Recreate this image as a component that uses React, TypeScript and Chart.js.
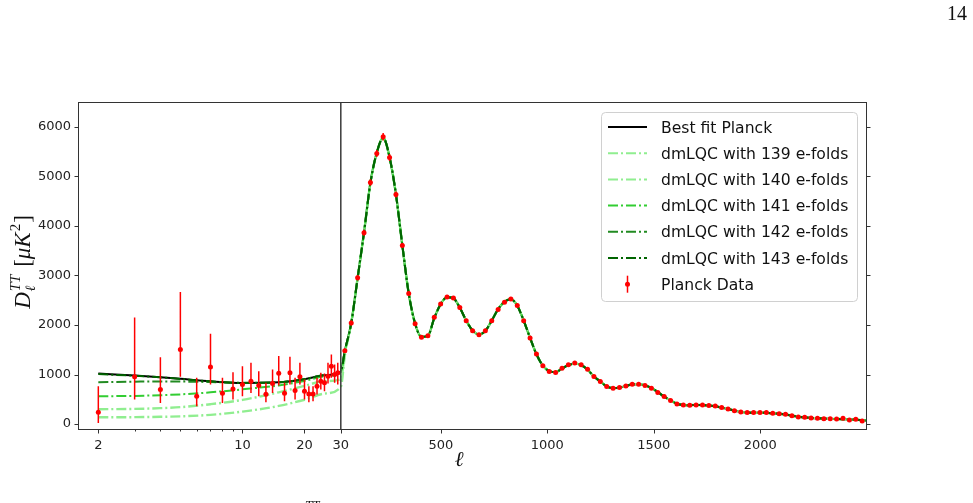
import React, { useEffect, useRef } from "react";
import { Chart, registerables } from "chart.js";

Chart.register(...registerables);

// ---------- layout constants ----------
const W = 973;
const H = 503;
const AREA = { left: 78, top: 102, right: 866, bottom: 429 };

// hybrid axis: log panel for ell <= 30, linear panel above
const ELL_SPLIT = 30;
const ELL_MIN = 1.594;
const ELL_MAX = 2497;
const LOG_STRETCH = 968.5; // linear-ell units per decade of the log panel
const Y_MIN = -101;
const Y_MAX = 6505;

// ---------- ticks ----------
const X_MAJOR_TICKS = [2, 10, 20, 30, 500, 1000, 1500, 2000];
const X_MINOR_TICKS = [3, 4, 5, 6, 7, 8, 9];
const Y_TICKS = [0, 1000, 2000, 3000, 4000, 5000, 6000];

// ---------- model curves, low-ell (log panel) ----------
const LOW_ELL = [2, 3, 4, 5, 7, 10, 15, 20, 25, 30];
const BEST_LOW = [1020, 980, 945, 912, 862, 830, 842, 905, 985, 1060];
const E139_LOW = [135, 138, 145, 155, 185, 250, 365, 490, 615, 750];
const E140_LOW = [298, 305, 320, 340, 400, 487, 640, 770, 865, 905];
const E141_LOW = [560, 568, 582, 598, 640, 700, 780, 870, 960, 1040];
const E142_LOW = [845, 855, 860, 858, 848, 832, 842, 905, 985, 1060];
const E143_LOW = [1008, 975, 944, 911, 862, 830, 842, 905, 985, 1060];

// transition values at ell = 49 for the dmLQC curves
const E139_AT49 = 1380;
const E140_AT49 = 1430;
const E141_AT49 = 1465;

// ---------- Planck binned data (high ell) ----------
const DATA_HIGH_ELL = [
  49, 79, 109, 139, 169, 199, 229, 259, 289, 319, 349, 379, 409, 439, 469, 499,
  529, 559, 589, 619, 649, 679, 709, 739, 769, 799, 829, 859, 889, 919, 949, 979,
  1009, 1039, 1069, 1099, 1129, 1159, 1189, 1219, 1249, 1279, 1309, 1339, 1369,
  1399, 1429, 1459, 1489, 1519, 1549, 1579, 1609, 1639, 1669, 1699, 1729, 1759,
  1789, 1819, 1849, 1879, 1909, 1939, 1969, 1999, 2029, 2059, 2089, 2119, 2149,
  2179, 2209, 2239, 2269, 2299, 2329, 2359, 2389, 2419, 2449, 2479,
];
const DATA_HIGH_D = [
  1480, 2041, 2953, 3865, 4879, 5466, 5804, 5385, 4635, 3608, 2635, 2027, 1750,
  1784, 2155, 2426, 2568, 2547, 2351, 2088, 1885, 1804, 1885, 2088, 2311, 2459,
  2527, 2392, 2088, 1737, 1412, 1176, 1061, 1041, 1128, 1196, 1230, 1196, 1108,
  959, 858, 757, 723, 737, 770, 804, 804, 777, 723, 635, 554, 473, 405, 385, 379,
  385, 385, 372, 365, 331, 304, 270, 243, 230, 230, 230, 230, 216, 209, 196, 169,
  142, 135, 122, 115, 108, 108, 101, 115, 81, 95, 61,
];
const DATA_HIGH_ERR = [
  45, 50, 55, 60, 65, 70, 75, 70, 60, 50, 40, 35, 30, 30, 30, 30, 30, 30, 28, 26,
  25, 25, 25, 25, 25, 25, 25, 25, 24, 22, 20, 18, 18, 18, 18, 18, 18, 18, 17, 16,
  16, 15, 15, 15, 15, 15, 15, 15, 15, 15, 15, 14, 14, 14, 14, 14, 14, 14, 14, 14,
  14, 14, 14, 14, 14, 14, 15, 15, 15, 15, 15, 16, 16, 16, 17, 17, 18, 18, 19, 20,
  21, 22,
];

// best-fit model on the high-ell grid (plus end point)
const BEST_HIGH_ELL = [...DATA_HIGH_ELL, 2497];
const BEST_HIGH = [
  1480, 2040, 2950, 3870, 4870, 5480, 5780, 5390, 4640, 3610, 2640, 2030, 1760,
  1780, 2140, 2420, 2560, 2540, 2350, 2090, 1890, 1810, 1880, 2090, 2320, 2470,
  2520, 2390, 2090, 1740, 1410, 1180, 1070, 1050, 1120, 1190, 1220, 1190, 1100,
  960, 860, 760, 725, 735, 770, 800, 805, 780, 730, 645, 555, 475, 410, 385, 380,
  385, 383, 372, 358, 330, 302, 272, 246, 232, 228, 228, 225, 216, 206, 192, 170,
  148, 135, 123, 115, 109, 105, 101, 97, 92, 86, 78, 72,
];

// ---------- Planck unbinned data (low ell) ----------
const DATA_LOW_ELL = [
  2, 3, 4, 5, 6, 7, 8, 9, 10, 11, 12, 13, 14, 15, 16, 17, 18, 19, 20, 21, 22, 23,
  24, 25, 26, 27, 28, 29,
];
const DATA_LOW_D = [
  236, 953, 696, 1507, 561, 1149, 622, 709, 797, 865, 777, 601, 818, 1027, 622,
  1034, 676, 953, 662, 608, 608, 764, 865, 831, 966, 1169, 1000, 1034,
];
const DATA_LOW_HI = [
  764, 2149, 1351, 2669, 932, 1824, 932, 1047, 1169, 1236, 1068, 831, 1101, 1372,
  831, 1358, 932, 1236, 899, 764, 764, 932, 1034, 1020, 1236, 1405, 1203, 1236,
];
const DATA_LOW_LO = [
  20, 493, 426, 953, 358, 797, 426, 493, 561, 628, 561, 439, 628, 777, 459, 797,
  493, 797, 493, 439, 459, 595, 696, 662, 818, 932, 831, 797,
];

// ---------- labels ----------
const LEGEND_LABELS = [
  "Best fit Planck",
  "dmLQC with 139 e-folds",
  "dmLQC with 140 e-folds",
  "dmLQC with 141 e-folds",
  "dmLQC with 142 e-folds",
  "dmLQC with 143 e-folds",
  "Planck Data",
];
const COLORS = ["#000000", "#90ee90", "#90ee90", "#32cd32", "#228b22", "#006400"];
const DASH = [10, 3, 2, 3];

const toU = (l: number) =>
  l <= ELL_SPLIT ? LOG_STRETCH * Math.log10(l / ELL_SPLIT) : l - ELL_SPLIT;

function curve(lowVals: number[], at49: number | null) {
  const pts = LOW_ELL.map((l, i) => ({ x: toU(l), y: lowVals[i] }));
  BEST_HIGH_ELL.forEach((l, i) => {
    const v = i === 0 && at49 !== null ? at49 : BEST_HIGH[i];
    pts.push({ x: toU(l), y: v });
  });
  return pts;
}

const SANS = '"DejaVu Sans", sans-serif';
const SERIF = '"Liberation Serif", "DejaVu Serif", serif';

const overlay = {
  id: "overlay",
  beforeDatasetDraw(chart: any, args: any) {
    const ds = chart.data.datasets[args.index];
    if (ds.label !== "Planck Data") return;
    const { ctx } = chart;
    const xs = chart.scales.x;
    const ys = chart.scales.y;
    ctx.save();
    ctx.beginPath();
    ctx.rect(AREA.left, AREA.top, AREA.right - AREA.left, AREA.bottom - AREA.top);
    ctx.clip();
    ctx.strokeStyle = "#ff0000";
    ctx.lineWidth = 1.5;
    ctx.beginPath();
    DATA_LOW_ELL.forEach((l, i) => {
      const px = xs.getPixelForValue(toU(l));
      ctx.moveTo(px, ys.getPixelForValue(DATA_LOW_HI[i]));
      ctx.lineTo(px, ys.getPixelForValue(DATA_LOW_LO[i]));
    });
    DATA_HIGH_ELL.forEach((l, i) => {
      const px = xs.getPixelForValue(toU(l));
      ctx.moveTo(px, ys.getPixelForValue(DATA_HIGH_D[i] + DATA_HIGH_ERR[i]));
      ctx.lineTo(px, ys.getPixelForValue(DATA_HIGH_D[i] - DATA_HIGH_ERR[i]));
    });
    ctx.stroke();
    ctx.restore();
  },
  afterDraw(chart: any) {
    const { ctx } = chart;
    const xs = chart.scales.x;
    const ys = chart.scales.y;
    const axisColor = "#333333";
    ctx.save();

    // panel separator at ell = 30
    const xSplit = xs.getPixelForValue(toU(ELL_SPLIT));
    ctx.strokeStyle = "#3a3a3a";
    ctx.lineWidth = 1.5;
    ctx.beginPath();
    ctx.moveTo(xSplit, AREA.top);
    ctx.lineTo(xSplit, AREA.bottom);
    ctx.stroke();

    // frame
    ctx.strokeStyle = axisColor;
    ctx.lineWidth = 1;
    ctx.strokeRect(AREA.left + 0.5, AREA.top + 0.5, AREA.right - AREA.left, AREA.bottom - AREA.top);

    // y ticks (left + right)
    ctx.beginPath();
    Y_TICKS.forEach((v) => {
      const py = Math.round(ys.getPixelForValue(v)) + 0.5;
      ctx.moveTo(AREA.left + 0.5, py);
      ctx.lineTo(AREA.left - 3.5, py);
      ctx.moveTo(AREA.right + 0.5, py);
      ctx.lineTo(AREA.right + 4.5, py);
    });
    // x ticks
    X_MAJOR_TICKS.forEach((l) => {
      const px = Math.round(xs.getPixelForValue(toU(l))) + 0.5;
      ctx.moveTo(px, AREA.bottom + 0.5);
      ctx.lineTo(px, AREA.bottom + 4.5);
    });
    X_MINOR_TICKS.forEach((l) => {
      const px = Math.round(xs.getPixelForValue(toU(l))) + 0.5;
      ctx.moveTo(px, AREA.bottom + 0.5);
      ctx.lineTo(px, AREA.bottom + 2.5);
    });
    ctx.stroke();

    // tick labels
    ctx.fillStyle = "#222222";
    ctx.font = `13px ${SANS}`;
    ctx.textAlign = "right";
    ctx.textBaseline = "middle";
    Y_TICKS.forEach((v) => {
      ctx.fillText(String(v), 71, ys.getPixelForValue(v));
    });
    ctx.textAlign = "center";
    ctx.textBaseline = "alphabetic";
    X_MAJOR_TICKS.forEach((l) => {
      ctx.fillText(String(l), xs.getPixelForValue(toU(l)), 449);
    });

    // x title
    ctx.fillStyle = "#111111";
    ctx.font = `italic 21px "DejaVu Serif", serif`;
    ctx.textAlign = "center";
    ctx.fillText("\u2113", 459, 466);

    // y title: D_l^{TT} [mu K^2]
    ctx.save();
    ctx.translate(30, 262);
    ctx.rotate(-Math.PI / 2);
    ctx.textAlign = "left";
    ctx.textBaseline = "alphabetic";
    const big = `italic 23px ${SERIF}`;
    const bigR = `23px ${SERIF}`;
    const small = `italic 15px ${SERIF}`;
    const smallR = `15px ${SERIF}`;
    const ell = `italic 14px "DejaVu Serif", serif`;
    ctx.font = big;
    const wD = ctx.measureText("D").width;
    ctx.font = small;
    const wTT = ctx.measureText("TT").width;
    ctx.font = bigR;
    const wSp = ctx.measureText(" ").width;
    const wLB = ctx.measureText("[").width;
    const wRB = ctx.measureText("]").width;
    ctx.font = big;
    const wMu = ctx.measureText("\u03bcK").width;
    ctx.font = smallR;
    const w2 = ctx.measureText("2").width;
    const total = wD + 1 + wTT + wSp + 2 + wLB + wMu + w2 + 2 + wRB;
    let x = -total / 2;
    ctx.font = big;
    ctx.fillText("D", x, 0);
    x += wD + 1;
    ctx.font = small;
    ctx.fillText("TT", x, -10);
    ctx.font = ell;
    ctx.fillText("\u2113", x, 5);
    x += wTT + wSp + 2;
    ctx.font = bigR;
    ctx.fillText("[", x, 0);
    x += wLB;
    ctx.font = big;
    ctx.fillText("\u03bcK", x, 0);
    x += wMu + 1;
    ctx.font = smallR;
    ctx.fillText("2", x, -10);
    x += w2 + 1;
    ctx.font = bigR;
    ctx.fillText("]", x, 0);
    ctx.restore();

    // legend
    const lx = 601, ly = 112, lw = 256, lh = 189;
    ctx.fillStyle = "rgba(255,255,255,0.85)";
    ctx.strokeStyle = "#d0d0d0";
    ctx.lineWidth = 1;
    ctx.beginPath();
    (ctx as any).roundRect(lx + 0.5, ly + 0.5, lw, lh, 4);
    ctx.fill();
    ctx.stroke();
    const rowY0 = 127;
    const rowStep = 26.2;
    ctx.font = `15.6px ${SANS}`;
    ctx.textAlign = "left";
    ctx.textBaseline = "alphabetic";
    LEGEND_LABELS.forEach((label, i) => {
      const cy = rowY0 + i * rowStep;
      if (i < 6) {
        ctx.strokeStyle = COLORS[i];
        ctx.lineWidth = 2;
        ctx.setLineDash(i === 0 ? [] : DASH);
        ctx.beginPath();
        ctx.moveTo(608, cy);
        ctx.lineTo(647, cy);
        ctx.stroke();
        ctx.setLineDash([]);
      } else {
        ctx.strokeStyle = "#ff0000";
        ctx.lineWidth = 1.5;
        ctx.beginPath();
        ctx.moveTo(627.5, cy - 8.5);
        ctx.lineTo(627.5, cy + 8.5);
        ctx.stroke();
        ctx.fillStyle = "#ff0000";
        ctx.beginPath();
        ctx.arc(627.5, cy, 2.5, 0, Math.PI * 2);
        ctx.fill();
      }
      ctx.fillStyle = "#111111";
      ctx.fillText(label, 661, cy + 5.6);
    });

    // page number and caption fragment
    ctx.fillStyle = "#111111";
    ctx.font = `20px ${SERIF}`;
    ctx.textAlign = "right";
    ctx.fillText("14", 967, 20);
    ctx.font = `italic 13px ${SERIF}`;
    ctx.textAlign = "left";
    ctx.fillText("TT", 305, 509);

    ctx.restore();
  },
};

export default function App() {
  const ref = useRef<HTMLCanvasElement | null>(null);

  useEffect(() => {
    if (!ref.current) return;
    const lineBase = {
      type: "line" as const,
      pointRadius: 0,
      borderWidth: 2,
      cubicInterpolationMode: "monotone" as const,
      fill: false,
    };
    const chart = new Chart(ref.current, {
      type: "line",
      data: {
        datasets: [
          {
            type: "scatter",
            label: "Planck Data",
            data: [
              ...DATA_LOW_ELL.map((l, i) => ({ x: toU(l), y: DATA_LOW_D[i] })),
              ...DATA_HIGH_ELL.map((l, i) => ({ x: toU(l), y: DATA_HIGH_D[i] })),
            ],
            pointRadius: 2.5,
            pointBackgroundColor: "#ff0000",
            pointBorderWidth: 0,
            showLine: false,
            order: 0,
          } as any,
          { ...lineBase, label: LEGEND_LABELS[5], data: curve(E143_LOW, null), borderColor: COLORS[5], borderDash: DASH, order: 1 },
          { ...lineBase, label: LEGEND_LABELS[4], data: curve(E142_LOW, null), borderColor: COLORS[4], borderDash: DASH, order: 2 },
          { ...lineBase, label: LEGEND_LABELS[3], data: curve(E141_LOW, E141_AT49), borderColor: COLORS[3], borderDash: DASH, order: 3 },
          { ...lineBase, label: LEGEND_LABELS[2], data: curve(E140_LOW, E140_AT49), borderColor: COLORS[2], borderDash: DASH, borderWidth: 2.4, order: 4 },
          { ...lineBase, label: LEGEND_LABELS[1], data: curve(E139_LOW, E139_AT49), borderColor: COLORS[1], borderDash: DASH, borderWidth: 2.4, order: 5 },
          { ...lineBase, label: LEGEND_LABELS[0], data: curve(BEST_LOW, null), borderColor: COLORS[0], order: 6 },
        ],
      },
      options: {
        responsive: false,
        animation: false,
        events: [],
        layout: {
          padding: {
            left: AREA.left,
            top: AREA.top,
            right: W - AREA.right,
            bottom: H - AREA.bottom,
          },
        },
        scales: {
          x: { type: "linear", min: toU(ELL_MIN), max: toU(ELL_MAX), display: false },
          y: { type: "linear", min: Y_MIN, max: Y_MAX, display: false },
        },
        plugins: { legend: { display: false }, tooltip: { enabled: false } },
      },
      plugins: [overlay],
    });
    return () => chart.destroy();
  }, []);

  return (
    <div style={{ position: "absolute", left: 0, top: 0, width: W, height: H, background: "#fff" }}>
      <canvas ref={ref} width={W} height={H} style={{ display: "block" }} />
    </div>
  );
}
